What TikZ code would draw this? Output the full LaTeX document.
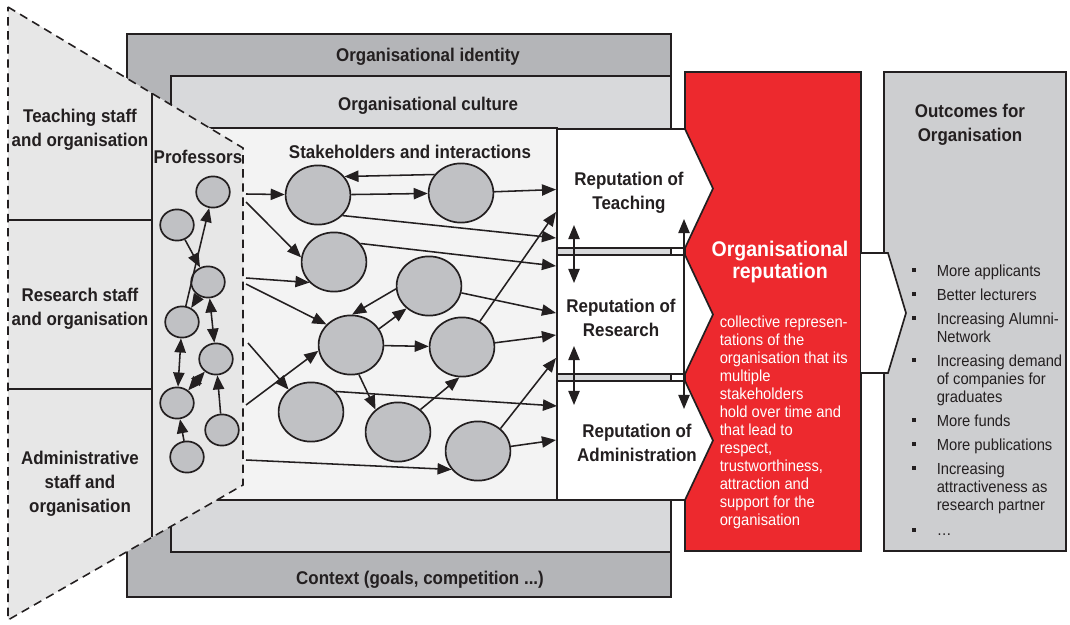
\documentclass[tikz,border=0pt]{standalone}
\usepackage{fontspec}
\setmainfont[FakeStretch=0.92]{Liberation Sans}
\usetikzlibrary{arrows.meta, calc, shapes.geometric}
\definecolor{idgray}{RGB}{180,181,184}
\definecolor{cultgray}{RGB}{216,217,219}
\definecolor{stakegray}{RGB}{243,243,243}
\definecolor{trapgray}{RGB}{231,231,231}
\definecolor{circgray}{RGB}{192,193,196}
\definecolor{outgray}{RGB}{205,206,208}
\definecolor{repred}{RGB}{237,41,46}
\definecolor{inkgray}{RGB}{35,31,32}
\newcommand{\lblfont}{\fontsize{13.1}{17.1}\selectfont\bfseries}
\newcommand{\ttlfont}{\fontsize{15.1}{14}\selectfont\bfseries}
\newcommand{\txtfont}{\fontsize{11.4}{12.8}\selectfont}
\tikzset{
  frame/.style = {draw=inkgray, line width=1.2pt},
  stake/.style = {ellipse, frame, fill=circgray, minimum width=1.62cm, minimum height=1.48cm, inner sep=0pt},
  prof/.style = {ellipse, frame, fill=circgray, minimum width=0.84cm, minimum height=0.78cm, inner sep=0pt},
  lbl/.style = {font=\lblfont, text=inkgray, align=center, inner sep=0pt},
  txt/.style = {font=\txtfont, text=inkgray, align=left, inner sep=0pt},
  rep/.style = {frame, fill=white, line join=miter},
  bulsq/.style = {rectangle, fill=inkgray, minimum size=0.11cm, inner sep=0pt},
  dashline/.style = {draw=inkgray, line width=1.1pt, dash pattern=on 6pt off 4pt}
}

\begin{document}
\begin{tikzpicture}[x=0.025cm, y=-0.025cm, >={Triangle[length=10pt, width=8pt]}, line width=1.1pt, draw=inkgray]
\useasboundingbox (0,0) rectangle (1070,624);
\draw[frame, fill=idgray] (127,34) rectangle (671,597);
\draw[frame, fill=cultgray] (171,76) rectangle (671,552);
\draw[frame, fill=stakegray] (200,128) rectangle (557,500);
\fill[trapgray] (8,7) -- (243,148) -- (243,485) -- (8,620) -- cycle;
\draw[frame] (152,93.4) -- (152,537.3);
\draw[frame] (8,220) -- (152,220);
\draw[frame] (8,389) -- (152,389);
\draw[dashline] (8,7) -- (243,148) -- (243,485) -- (8,620) -- cycle;

\foreach \n/\x/\y in {1/213/192, 2/177/225, 3/208/282, 4/182/322, 5/216/359, 6/177/403, 7/222/430, 8/187/457}
  \node[prof] (p\n) at (\x,\y) {};
\foreach \n/\x/\y in {1/318/195, 2/461/193, 3/334/262, 4/429/286, 5/351/345, 6/462/347, 7/311/412, 8/398/432, 9/478/451}
  \node[stake] (s\n) at (\x,\y) {};

\coordinate (f1) at (246,194);
\coordinate (f2) at (246,202);
\coordinate (f3) at (246,278);
\coordinate (f4) at (246,284);
\coordinate (f5) at (248,343);
\coordinate (f6) at (246,405);
\coordinate (f7) at (246,460);
\coordinate (t1) at (556,189.5);
\coordinate (t2) at (556,212);
\coordinate (t3) at (556,238);
\coordinate (r1) at (556,266);
\coordinate (r2) at (556,313);
\coordinate (r3) at (556,335);
\coordinate (r4) at (556,358);
\coordinate (a1) at (557,406);
\coordinate (a2) at (556,440);

\draw[->] (p2) -- (p3);
\draw[->] (p4) -- (p1);
\draw[->] (p3) -- (p4);
\draw[<->] (p3) -- (p5);
\draw[<->] (p4) -- (p6);
\draw[<->] (p5) -- (p6);
\draw[->] (p7) -- (p5);
\draw[->] (p8) -- (p6);

\draw[->] (f1) -- (s1);
\draw[->] (f2) -- (s3.172);
\draw[->] (f3) -- (s3.220);
\draw[->] (f4) -- (s5.140);
\draw[->] (f5) -- (s7.135);
\draw[->] (f6) -- (s5.190);
\draw[->] (f7) -- (s9.215);
\draw[->] (s1) -- (s2);
\draw[->] (s2.145) -- (s1.35);
\draw[->] (s2) -- (t1);
\draw[->] (s1.-40) -- (t3);
\draw[->] (s3.35) -- (r1);
\draw[->] (s4.185) -- (s5.88);
\draw[->] (s5.30) -- (s4.225);
\draw[->] (s4) -- (r2);
\draw[->] (s5) -- (s6);
\draw[->] (s6) -- (r3);
\draw[->] (s6) -- (t2);
\draw[->] (s5.-75) -- (s8.135);
\draw[->] (s8.45) -- (s6.-95);
\draw[->] (s7.40) -- (a1);
\draw[->] (s9.45) -- (r4);
\draw[->] (s9) -- (a2);

\draw[frame, fill=repred] (685,72) rectangle (861,551);
\foreach \t in {129,255,381}
  \draw[rep] (557,\t) -- (685,\t) -- (713,\t+59.5) -- (685,\t+119) -- (557,\t+119) -- cycle;

\coordinate (v1) at (574,225);
\coordinate (v2) at (574,283);
\coordinate (v3) at (574,346);
\coordinate (v4) at (574,405);
\coordinate (v5) at (684,219);
\coordinate (v6) at (684,409);
\draw[<->] (v1) -- (v2);
\draw[<->] (v3) -- (v4);
\draw[<->] (v5) -- (v6);

\draw[frame, fill=outgray] (884,72) rectangle (1066,551);
\draw[frame, fill=white, line join=miter] (861,253) -- (888,253) -- (906,313) -- (888,373) -- (861,373);

\node[lbl] (ident) at (428,57) {Organisational identity};
\node[lbl] (cult) at (428,106) {Organisational culture};
\node[lbl] (ctx) at (420,580) {Context (goals, competition ...)};
\node[lbl] (stk) at (410,152) {Stakeholders and interactions};
\node[lbl] (profs) at (198,157) {Professors};
\node[lbl] (tstaff) at (80,130) {Teaching staff\\and organisation};
\node[lbl] (rstaff) at (80,309) {Research staff\\and organisation};
\node[lbl] (astaff) at (80,484) {Administrative\\staff and\\organisation};
\node[lbl] (teach) at (629,193) {Reputation of\\Teaching};
\node[lbl] (research) at (621,318) {Reputation of\\Research};
\node[lbl] (admin) at (637,443) {Reputation of\\Administration};
\node[lbl, font=\ttlfont, text=white] (orgrep) at (780,262) {Organisational\\reputation};
\node[txt, text=white, anchor=north west] (defn) at (719,315) {collective represen-\\tations of the\\organisation that its\\multiple\\stakeholders\\hold over time and\\that lead to\\respect,\\trustworthiness,\\attraction and\\support for the\\organisation};
\node[lbl] (outc) at (970,125) {Outcomes for\\Organisation};
\foreach \y/\t [count=\i] in {270/More applicants, 294/Better lecturers, 318/{Increasing Alumni-\\Network}, 360/{Increasing demand\\of companies for\\graduates}, 420/More funds, 444/More publications, 468/{Increasing\\attractiveness as\\research partner}, 530/\dots}
  {
  \node[bulsq] (b\i) at (914,\y) {};
  \node[txt, anchor=north west] (o\i) at (936,\y-6) {\vphantom{M}\t};
  }
\end{tikzpicture}
\end{document}
